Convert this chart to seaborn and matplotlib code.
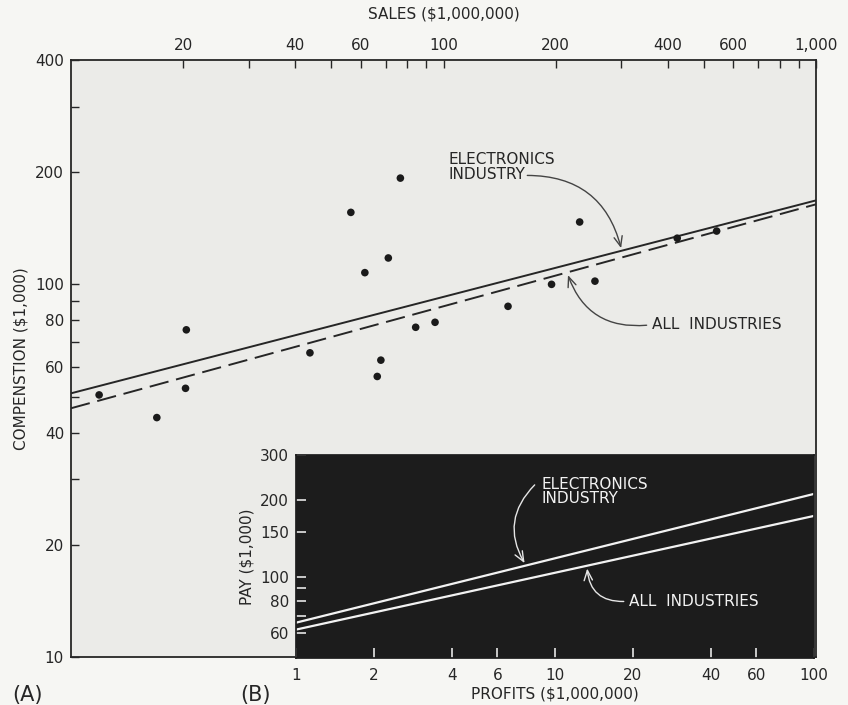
import numpy as np
import pandas as pd
import matplotlib.pyplot as plt
from matplotlib.ticker import FixedLocator, FixedFormatter, NullLocator
import seaborn as sns

# (A) company points: sales ($1,000,000) vs compensation ($1,000)
sales = [11.9, 17.0, 20.3, 20.4, 43.8, 56.4, 61.5, 66.4, 67.9, 71.1,
         76.6, 84.2, 94.9, 149, 195, 232, 255, 424, 541]
comp = [50.5, 43.9, 52.6, 75.5, 65.5, 156, 107.5, 56.6, 62.6, 117.7,
        192.8, 76.7, 79.1, 87.3, 100, 147, 102, 133, 139]

# regression lines in (A)
line_sales = [10, 1000]
elec_comp = [51, 168]
all_comp = [46.5, 164]

# (B) profits ($1,000,000) vs pay ($1,000)
profits = [1, 100]
elec_pay = [66, 211]
all_pay = [62, 173]

sales_ticks = [20, 30, 40, 50, 60, 70, 80, 90, 100, 200, 300, 400, 500, 600, 700, 800, 900, 1000]
sales_labels = ["20", "", "40", "", "60", "", "", "", "100", "200", "", "400", "", "600", "", "", "", "1,000"]
comp_ticks = [10, 20, 30, 40, 50, 60, 70, 80, 90, 100, 200, 300, 400]
comp_labels = ["10", "20", "", "40", "", "60", "", "80", "", "100", "200", "", "400"]
profit_ticks = [1, 2, 4, 6, 10, 20, 40, 60, 100]
profit_labels = ["1", "2", "4", "6", "10", "20", "40", "60", "100"]
pay_ticks = [60, 70, 80, 90, 100, 150, 200, 300]
pay_labels = ["60", "", "80", "", "100", "150", "200", "300"]

sns.set_theme(style="ticks")
plt.rcParams["font.family"] = ["DejaVu Sans"]

ink = "#262626"
fig = plt.figure(figsize=(8.48, 7.05), dpi=100, facecolor="#f6f6f3")

# main chart (A)
ax = fig.add_axes([0.0837, 0.0681, 0.8786, 0.8468])
ax.set_facecolor("#ebebe8")
ax.set_xscale("log")
ax.set_yscale("log")

sns.lineplot(x=line_sales, y=elec_comp, ax=ax, color=ink, lw=1.4)
sns.lineplot(x=line_sales, y=all_comp, ax=ax, color=ink, lw=1.4, linestyle=(0, (10, 4)))
sns.scatterplot(x=sales, y=comp, ax=ax, color="#1a1a1a", s=30, edgecolor="none", zorder=3)

ax.set_xlim(10, 1000)
ax.set_ylim(10, 400)

ax.xaxis.tick_top()
ax.xaxis.set_label_position("top")
ax.xaxis.set_major_locator(FixedLocator(sales_ticks))
ax.xaxis.set_major_formatter(FixedFormatter(sales_labels))
ax.xaxis.set_minor_locator(NullLocator())
ax.yaxis.set_major_locator(FixedLocator(comp_ticks))
ax.yaxis.set_major_formatter(FixedFormatter(comp_labels))
ax.yaxis.set_minor_locator(NullLocator())
ax.tick_params(axis="both", direction="in", length=6, width=1, color=ink,
               labelsize=11, labelcolor=ink, pad=5)
ax.set_xlabel("SALES ($1,000,000)", fontsize=11, color=ink, labelpad=14)
ax.set_ylabel("COMPENSTION ($1,000)", fontsize=11, color=ink, labelpad=5)
for s in ax.spines.values():
    s.set_color(ink)
    s.set_linewidth(1.3)

arrow_kw = dict(arrowstyle="->,head_length=0.6,head_width=0.25", color="#444444", lw=1)
ax.text(103, 226, "ELECTRONICS\nINDUSTRY", ha="left", va="top", fontsize=11,
        color=ink, linespacing=0.95)
ax.annotate("", xy=(301, 123), xytext=(165, 196),
            arrowprops=dict(connectionstyle="arc3,rad=-0.4", **arrow_kw))
ax.text(362, 77.8, "ALL  INDUSTRIES", ha="left", va="center", fontsize=11, color=ink)
ax.annotate("", xy=(214.6, 107.6), xytext=(357, 77.8),
            arrowprops=dict(connectionstyle="arc3,rad=-0.4", **arrow_kw))

# inset chart (B)
bx = fig.add_axes([0.349, 0.0667, 0.6108, 0.288])
bx.set_facecolor("#1c1c1c")
bx.set_xscale("log")
bx.set_yscale("log")
sns.lineplot(x=profits, y=elec_pay, ax=bx, color="#f2f2f2", lw=1.6)
sns.lineplot(x=profits, y=all_pay, ax=bx, color="#f2f2f2", lw=1.6)
bx.set_xlim(1, 100)
bx.set_ylim(48, 300)
bx.xaxis.set_major_locator(FixedLocator(profit_ticks))
bx.xaxis.set_major_formatter(FixedFormatter(profit_labels))
bx.xaxis.set_minor_locator(NullLocator())
bx.yaxis.set_major_locator(FixedLocator(pay_ticks))
bx.yaxis.set_major_formatter(FixedFormatter(pay_labels))
bx.yaxis.set_minor_locator(NullLocator())
bx.tick_params(axis="both", direction="in", length=7, width=1.2, color="#e6e6e6",
               labelsize=11, labelcolor=ink, pad=5)
bx.tick_params(axis="x", pad=7)
bx.set_xlabel("PROFITS ($1,000,000)", fontsize=11, color=ink, labelpad=3)
bx.set_ylabel("PAY ($1,000)", fontsize=11, color=ink, labelpad=4)
for s in bx.spines.values():
    s.set_color("#1c1c1c")

arrow_w = dict(arrowstyle="->,head_length=0.6,head_width=0.25", color="#e6e6e6", lw=1)
bx.text(8.9, 246, "ELECTRONICS\nINDUSTRY", ha="left", va="top", fontsize=11,
        color="#f2f2f2", linespacing=0.95)
bx.annotate("", xy=(7.73, 110.6), xytext=(8.5, 233),
            arrowprops=dict(connectionstyle="arc3,rad=0.4", **arrow_w))
bx.text(19.3, 80, "ALL  INDUSTRIES", ha="left", va="center", fontsize=11, color="#f2f2f2")
bx.annotate("", xy=(13.3, 110.3), xytext=(18.9, 80),
            arrowprops=dict(connectionstyle="arc3,rad=-0.5", **arrow_w))

fig.text(12 / 848, 1 - 695 / 705, "(A)", fontsize=15, color=ink, va="center", ha="left")
fig.text(240 / 848, 1 - 695 / 705, "(B)", fontsize=15, color=ink, va="center", ha="left")

fig.savefig("out.png", dpi=100, facecolor=fig.get_facecolor())
